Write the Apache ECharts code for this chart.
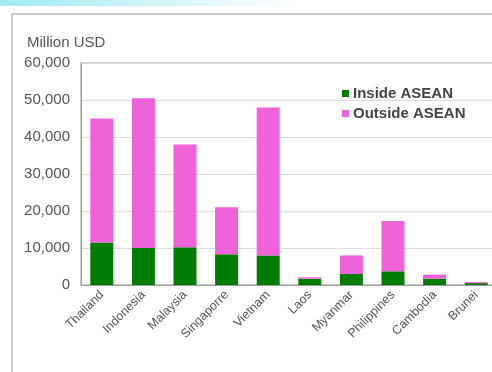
<!DOCTYPE html>
<html>
<head>
<meta charset="utf-8">
<script src="https://cdn.jsdelivr.net/npm/echarts@6/dist/echarts.min.js"></script>
<style>
  html, body { margin: 0; padding: 0; background: #fff; }
  #chart { width: 492px; height: 372px; }
</style>
</head>
<body>
<div id="chart"></div>
<script>
var countries = ['Thailand', 'Indonesia', 'Malaysia', 'Singaporre', 'Vietnam', 'Laos', 'Myanmar', 'Philippines', 'Cambodia', 'Brunei'];
var insideAsean = [11500, 10000, 10200, 8300, 8000, 1700, 3000, 3700, 1700, 500];
var outsideAsean = [33500, 40500, 27800, 12700, 40000, 400, 5000, 13600, 1100, 300];
var yTicks = [0, 10000, 20000, 30000, 40000, 50000, 60000];

var myChart = echarts.init(document.getElementById('chart'));

var option = {
  backgroundColor: '#fff',
  textStyle: { fontFamily: 'Liberation Sans, Arial, sans-serif' },
  animation: false,
  graphic: [
    {
      type: 'rect',
      shape: { x: 0, y: 0, width: 300, height: 6 },
      style: {
        fill: new echarts.graphic.LinearGradient(0, 0, 1, 0, [
          { offset: 0, color: 'rgba(150,230,240,0.9)' },
          { offset: 1, color: 'rgba(150,230,240,0)' }
        ])
      },
      silent: true
    },
    {
      type: 'rect',
      shape: { x: 12, y: 14, width: 520, height: 420 },
      style: { fill: 'none', stroke: '#9a9a9a', lineWidth: 1 },
      silent: true
    },
    {
      type: 'text',
      left: 27,
      top: 35,
      style: { text: 'Million USD', fontSize: 15, fill: '#555', fontFamily: 'Liberation Sans, Arial, sans-serif' }
    }
  ],
  legend: {
    orient: 'vertical',
    left: 337,
    top: 81,
    itemWidth: 7,
    itemHeight: 7,
    itemGap: 5,
    textStyle: { fontSize: 15, fontWeight: 'bold', color: '#444', padding: [0, 0, 0, -1] },
    data: [
      { name: 'Inside ASEAN', icon: 'rect' },
      { name: 'Outside ASEAN', icon: 'rect' }
    ]
  },
  grid: {
    left: 81,
    top: 63,
    width: 416,
    height: 222,
    show: true,
    borderColor: '#9a9a9a',
    borderWidth: 1,
    containLabel: false,
    outerBoundsMode: 'none'
  },
  xAxis: {
    type: 'category',
    data: countries,
    axisLine: { lineStyle: { color: '#9a9a9a' } },
    axisTick: { show: false },
    axisLabel: { rotate: 45, fontSize: 12.5, color: '#555', margin: 8, interval: 0 }
  },
  yAxis: {
    type: 'value',
    min: yTicks[0],
    max: yTicks[yTicks.length - 1],
    interval: 10000,
    axisLine: { show: true, lineStyle: { color: '#9a9a9a' } },
    axisTick: { show: false },
    splitLine: { lineStyle: { color: '#dcdcdc' } },
    axisLabel: {
      fontSize: 15,
      color: '#555',
      margin: 11,
      formatter: function (v) { return v.toLocaleString('en-US'); }
    }
  },
  series: [
    {
      name: 'Inside ASEAN',
      type: 'bar',
      stack: 'total',
      barWidth: 23,
      itemStyle: { color: '#007d00' },
      data: insideAsean
    },
    {
      name: 'Outside ASEAN',
      type: 'bar',
      stack: 'total',
      barWidth: 23,
      itemStyle: { color: '#f062d8' },
      data: outsideAsean
    }
  ]
};

myChart.setOption(option);
</script>
</body>
</html>
